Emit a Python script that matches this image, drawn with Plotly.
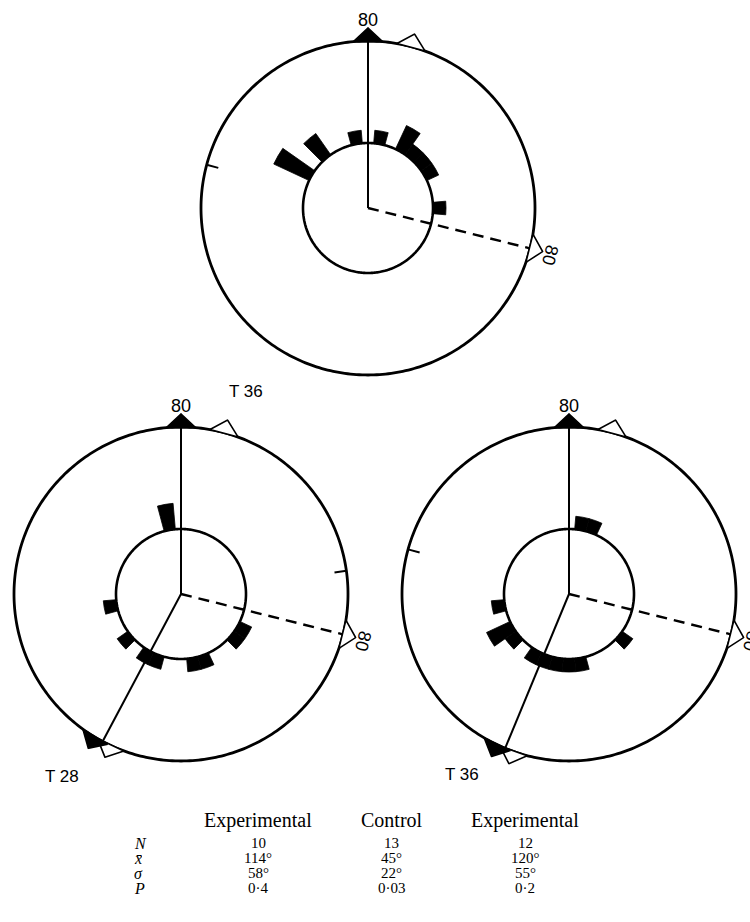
import numpy as np
import plotly.graph_objects as go

W, H = 750, 922

# Headings in 10-degree classes: class centre (deg, clockwise from top) and number of birds
ctrl_theta = [300, 320, 350, 10, 30, 40, 50, 60, 90]
ctrl_count = [3, 2, 1, 1, 2, 1, 1, 1, 1]

t28_theta = [350, 260, 230, 200, 210, 160, 170, 120, 130]
t28_count = [2, 1, 1, 1, 1, 1, 1, 1, 1]

t36_theta = [10, 20, 260, 240, 230, 170, 180, 190, 200, 210, 130]
t36_count = [1, 1, 1, 2, 1, 1, 1, 1, 1, 1, 1]

# Reference directions (deg, clockwise from top)
north_dir = 0          # solid line, filled marker, "80"
dashed_dir = 104       # dashed line, open marker, "80"
open_mark_dir = 15     # open marker near the top
ctrl_tick, t28_tick, t36_tick = 285, 82, 285.5
t28_line, t36_line = 208, 202.5   # second solid line in the experimental groups

# Summary table
col_titles = ["Experimental", "Control", "Experimental"]
row_labels = ["<i>N</i>", "<i>x̄</i>", "<i>σ</i>", "<i>P</i>"]
n_vals = [10, 13, 12]
mean_vals = [114, 45, 120]
sd_vals = [58, 22, 55]
p_vals = ["0·4", "0·03", "0·2"]

# Radial scale: counts, with the inner circle at r = 0
PX_PER_COUNT = 13.0
R_IN_PX, R_OUT_PX, R_MAX_PX = 65.0, 167.0, 181.0
R0 = -R_IN_PX / PX_PER_COUNT
R_OUT = (R_OUT_PX - R_IN_PX) / PX_PER_COUNT
R_MAX = (R_MAX_PX - R_IN_PX) / PX_PER_COUNT
TRI_H = 13.0 / PX_PER_COUNT

panels = [
    dict(key="polar", c=(368, 208), theta=ctrl_theta, r=ctrl_count, tick=ctrl_tick, line2=None),
    dict(key="polar2", c=(181, 594), theta=t28_theta, r=t28_count, tick=t28_tick, line2=t28_line),
    dict(key="polar3", c=(569, 594), theta=t36_theta, r=t36_count, tick=t36_tick, line2=t36_line),
]

fig = go.Figure()
ring = np.linspace(0, 360, 361)
BLACK = "black"


def to_paper(c, dist, bearing):
    b = np.radians(bearing)
    return (c[0] + dist * np.sin(b)) / W, 1 - (c[1] - dist * np.cos(b)) / H


def line(sub, r, th, width=2.0, dash="solid"):
    fig.add_trace(go.Scatterpolar(r=r, theta=th, mode="lines", subplot=sub,
                                  line=dict(color=BLACK, width=width, dash=dash),
                                  hoverinfo="skip"))


def tri(sub, bearing, fill):
    fig.add_trace(go.Scatterpolar(
        r=[R_OUT, R_OUT + TRI_H, R_OUT, R_OUT],
        theta=[bearing - 5, bearing, bearing + 5, bearing - 5],
        mode="lines", fill="toself", fillcolor=fill, subplot=sub,
        line=dict(color=BLACK, width=1.6), hoverinfo="skip"))


layout_polars = {}
for p in panels:
    sub, c = p["key"], p["c"]
    layout_polars[sub] = dict(
        domain=dict(x=[(c[0] - R_MAX_PX) / W, (c[0] + R_MAX_PX) / W],
                    y=[1 - (c[1] + R_MAX_PX) / H, 1 - (c[1] - R_MAX_PX) / H]),
        bgcolor="rgba(0,0,0,0)",
        angularaxis=dict(rotation=90, direction="clockwise", visible=False,
                         showgrid=False, showline=False),
        radialaxis=dict(range=[R0, R_MAX], visible=False, showgrid=False,
                        showline=False),
    )
    # histogram bars standing on the inner circle
    fig.add_trace(go.Barpolar(r=p["r"], theta=p["theta"], base=0, width=10,
                              marker=dict(color=BLACK, line=dict(color=BLACK, width=0.8)),
                              subplot=sub, hoverinfo="skip"))
    # inner and outer circles
    line(sub, [0] * len(ring), ring, width=2.6)
    line(sub, [R_OUT] * len(ring), ring, width=2.8)
    # radial lines
    line(sub, [R0, R_OUT], [north_dir, north_dir], width=2.0)
    line(sub, [R0, R_OUT], [dashed_dir, dashed_dir], width=2.4, dash="11px,7px")
    if p["line2"] is not None:
        line(sub, [R0, R_OUT], [p["line2"], p["line2"]], width=2.0)
    # tick on the outer circle
    line(sub, [R_OUT - 12 / PX_PER_COUNT, R_OUT], [p["tick"], p["tick"]], width=2.0)
    # markers on the outer circle
    tri(sub, open_mark_dir, "white")
    tri(sub, dashed_dir, "white")
    if p["line2"] is not None:
        tri(sub, p["line2"] - 3, "white")
        tri(sub, p["line2"] + 3, BLACK)
    tri(sub, north_dir, BLACK)

annotations = []
SANS = "Liberation Sans, Arial, sans-serif"
SERIF = "Liberation Serif, Times New Roman, serif"


def label(c, dist, bearing, text, angle=0, size=17):
    x, y = to_paper(c, dist, bearing)
    annotations.append(dict(x=x, y=y, xref="paper", yref="paper", text=text,
                            showarrow=False, textangle=angle, xanchor="center",
                            yanchor="middle", font=dict(family=SANS, size=size, color=BLACK)))


for p in panels:
    label(p["c"], 188, north_dir, "80", size=18)
    label(p["c"], 188, dashed_dir + 0.5, "80", angle=dashed_dir, size=18)

label(panels[1]["c"], 213, 17.8, "T 36")
label(panels[1]["c"], 218, 213, "T 28")
label(panels[2]["c"], 210, 210.6, "T 36")

# Summary table below the diagrams
col_x = [258, 392, 525]
row_y = [843, 858, 873, 888]
header_y = 820
rows = [
    [str(v) for v in n_vals],
    [f"{v}°" for v in mean_vals],
    [f"{v}°" for v in sd_vals],
    p_vals,
]


def tcell(x, y, text, size, anchor="center", box_h=None):
    annotations.append(dict(x=x / W, y=1 - y / H, xref="paper", yref="paper", text=text,
                            showarrow=False, xanchor=anchor, yanchor="middle", borderpad=0,
                            height=box_h, valign="middle",
                            font=dict(family=SERIF, size=size, color=BLACK)))


for x, t in zip(col_x, col_titles):
    tcell(x, header_y, t, 20)
for y, lab, vals in zip(row_y, row_labels, rows):
    tcell(133, y, lab, 16, anchor="left", box_h=15)
    for x, v in zip(col_x, vals):
        tcell(x, y, v, 15)

fig.update_layout(
    width=W, height=H, margin=dict(l=0, r=0, t=0, b=0),
    paper_bgcolor="white", plot_bgcolor="white", showlegend=False,
    annotations=annotations, **layout_polars,
)

fig.write_html("out.html", config=dict(displayModeBar=False))
